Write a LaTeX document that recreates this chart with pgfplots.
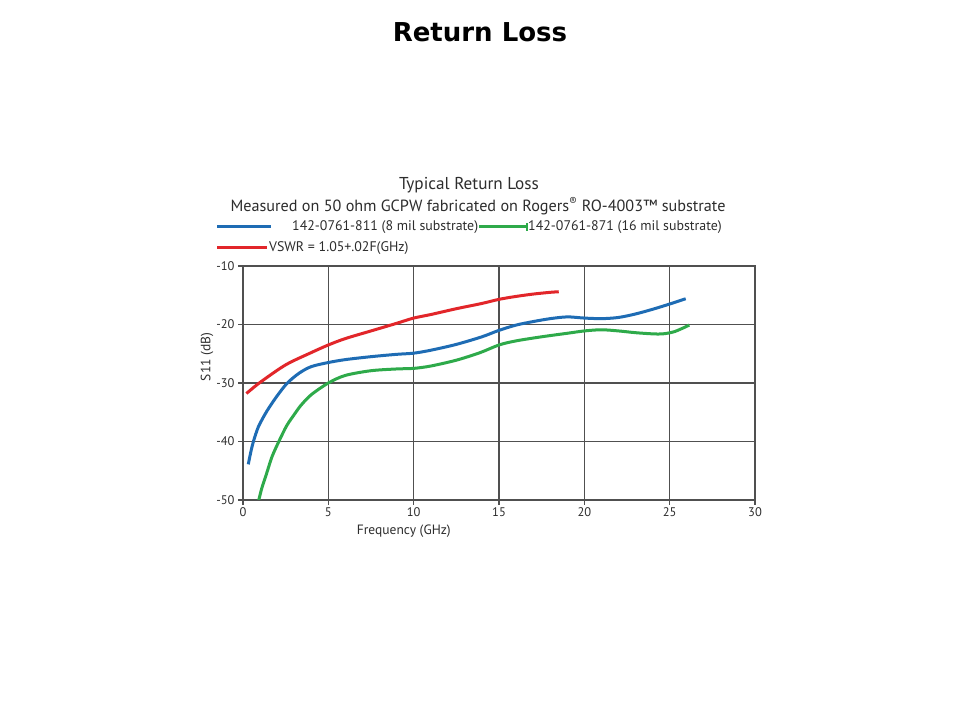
\documentclass[border=0pt]{standalone}
\usepackage{pgfplots}
\pgfplotsset{compat=1.18}
\usepackage{fontspec}
\setmainfont{PT Sans}
\newfontfamily\headfont{DejaVu Sans}

\definecolor{sblue}{RGB}{30,108,180}
\definecolor{sgreen}{RGB}{46,170,74}
\definecolor{sred}{RGB}{226,38,42}
\definecolor{gridgray}{RGB}{80,80,80}
\definecolor{txt}{RGB}{45,45,45}

\begin{document}
\begin{tikzpicture}
\fill[white] (0pt,0pt) rectangle (960pt,720pt);
\useasboundingbox (0pt,0pt) rectangle (960pt,720pt);

% page title
\node[font=\headfont\bfseries\fontsize{26}{30}\selectfont] at (480pt,688pt) {Return Loss};

% chart titles
\node[txt,font=\fontsize{17.2}{20}\selectfont] at (469pt,535pt) {Typical Return Loss};
\node[txt,font=\fontsize{16.2}{19}\selectfont] at (478pt,514pt) {Measured on 50 ohm GCPW fabricated on Rogers\textsuperscript{\textregistered} RO-4003\texttrademark{} substrate};

% legend
\draw[sblue,line width=3pt] (217pt,493pt) -- (271pt,493pt);
\node[txt,anchor=west,inner sep=0pt,font=\fontsize{13.9}{16}\selectfont] at (292pt,493pt) {142-0761-811 (8 mil substrate)};
\draw[sgreen,line width=3pt] (479pt,493pt) -- (527pt,493pt);
\draw[sgreen,line width=1.5pt] (527pt,489pt) -- (527pt,497pt);
\node[txt,anchor=west,inner sep=0pt,font=\fontsize{13.9}{16}\selectfont] at (528pt,493pt) {142-0761-871 (16 mil substrate)};
\draw[sred,line width=3pt] (217pt,472pt) -- (267pt,472pt);
\node[txt,anchor=west,inner sep=0pt,font=\fontsize{13.9}{16}\selectfont] at (269pt,472pt) {VSWR = 1.05+.02F(GHz)};

\begin{axis}[
    at={(243pt,220pt)}, anchor=south west,
    scale only axis,
    width=512pt, height=234pt,
    xmin=0, xmax=30, ymin=-50, ymax=-10,
    xtick={0,5,...,30}, ytick={-50,-40,...,-10},
    grid=major,
    grid style={gridgray, line width=1.3pt},
    axis line style={gridgray, line width=1.3pt},
    tick style={gridgray, line width=1.3pt},
    tick align=outside, major tick length=5pt,
    xtick pos=bottom, ytick pos=left,
    ticklabel style={txt, font=\fontsize{12.5}{14}\selectfont},
    /pgf/number format/assume math mode=true,
    xlabel={Frequency (GHz)}, ylabel={S11 (dB)},
    every axis x label/.style={at={(rel axis cs:0.314,0)}, yshift=-31pt, anchor=center,
        txt, font=\fontsize{13.5}{15}\selectfont},
    every axis y label/.style={at={(rel axis cs:0,0.611)}, xshift=-36pt, rotate=90, anchor=center,
        txt, font=\fontsize{13.5}{15}\selectfont},
    xticklabel style={yshift=1pt},
]

% VSWR = 1.05+.02F
\addplot[sred, line width=3pt, smooth] coordinates {
(0.2,-31.8) (1,-29.9) (2.5,-26.9) (4,-24.8) (5,-23.5) (6,-22.4) (7.5,-21.1)
(9,-19.8) (10,-18.9) (11,-18.3) (12.5,-17.3) (14,-16.4) (15,-15.7) (16,-15.2)
(17,-14.8) (18,-14.5) (18.5,-14.4)};

% 142-0761-811 (8 mil substrate)
\addplot[sblue, line width=3pt, smooth] coordinates {
(0.31,-43.9) (0.45,-41.9) (0.6,-40.1) (0.9,-37.5) (1.4,-34.8) (2.0,-32.2)
(2.6,-30.0) (3.3,-28.3) (4.0,-27.2) (5.0,-26.5) (6,-26.0) (7.5,-25.5) (9,-25.1)
(10,-24.9) (11,-24.4) (12.5,-23.4) (14,-22.1) (15,-21.0) (16,-20.1) (17,-19.5)
(18,-19.0) (19,-18.7) (20,-18.9) (21,-19.0) (22,-18.8) (23,-18.2) (24,-17.4)
(25,-16.5) (25.94,-15.6)};

% 142-0761-871 (16 mil substrate)
\addplot[sgreen, line width=3pt, smooth] coordinates {
(0.9,-50.3) (1.1,-48.0) (1.39,-45.4) (1.7,-42.6) (2.1,-40.0) (2.56,-37.3)
(3.0,-35.4) (3.4,-33.8) (4.0,-32.0) (5,-30.0) (6,-28.7) (7.5,-27.9) (9,-27.6)
(10,-27.5) (11,-27.1) (12.5,-26.1) (13.9,-24.8) (15,-23.5) (16,-22.8) (17.5,-22.1)
(19,-21.5) (20,-21.1) (21,-20.9) (22,-21.1) (23,-21.4) (24,-21.6) (24.6,-21.6)
(25.3,-21.2) (26.15,-20.1)};

\end{axis}
\end{tikzpicture}
\end{document}
